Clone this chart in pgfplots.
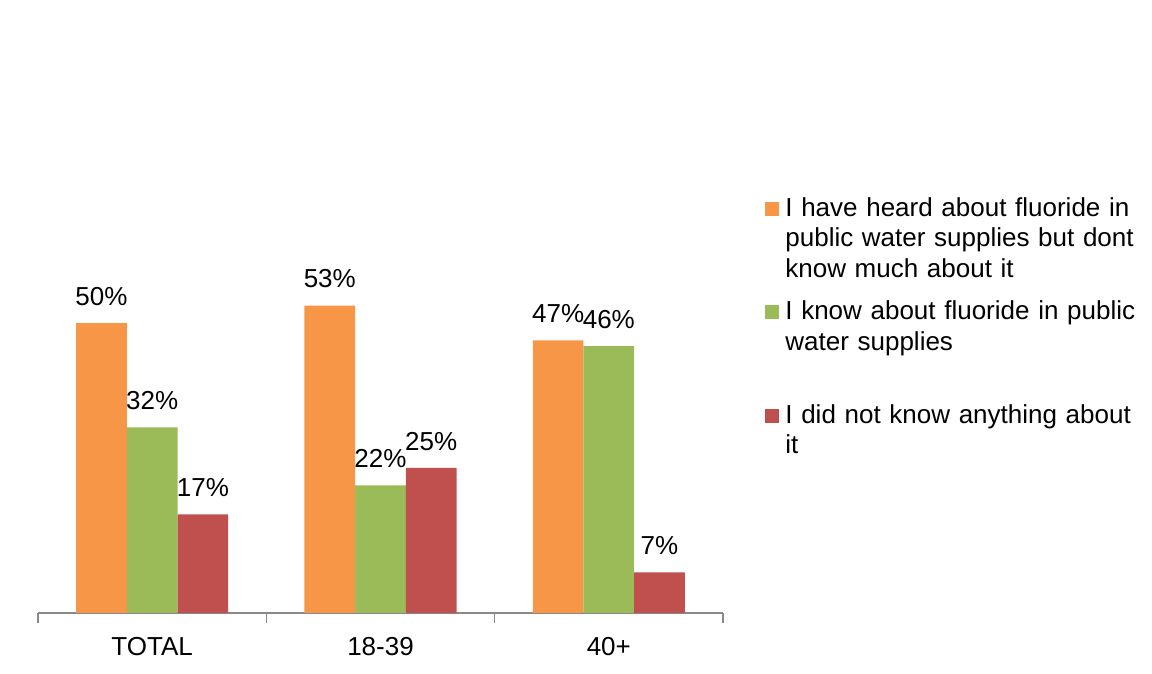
\documentclass[border=0pt]{standalone}
\usepackage{fontspec}
\setmainfont{Liberation Sans}
\usepackage{pgfplots}
\pgfplotsset{compat=1.18}
\definecolor{cOrange}{HTML}{F79646}
\definecolor{cGreen}{HTML}{9BBB59}
\definecolor{cRed}{HTML}{C0504D}
\definecolor{axisgray}{HTML}{898989}
\newcommand{\chartfont}{\fontsize{13}{15.25}\selectfont}

\begin{document}
\chartfont
\begin{tikzpicture}
% whole canvas, 1 px = 0.5pt
\useasboundingbox (0,0) rectangle (576pt,337pt);
\begin{axis}[
    at={(19pt,30.5pt)}, anchor=south west,
    scale only axis,
    width=342.5pt, height=174pt,
    xmin=-0.5, xmax=2.5, ymin=0, ymax=60,
    ybar=0pt, bar width=25.35pt,
    hide y axis,
    axis x line*=bottom,
    axis line style={axisgray, line width=0.75pt},
    xtick={0,1,2},
    xticklabels={TOTAL,18-39,40+},
    major tick length=0pt,
    minor xtick={-0.5,0.5,1.5,2.5},
    minor tick length=5pt,
    tick align=outside,
    minor tick style={axisgray, line width=0.75pt},
    xticklabel style={font=\chartfont, inner sep=0pt, anchor=north, yshift=-12pt},
    nodes near coords={\pgfmathprintnumber[assume math mode=true]{\pgfplotspointmeta}\%},
    every node near coord/.append style={font=\chartfont, inner sep=0pt, yshift=8.5pt},
    legend cell align=left,
    legend style={at={(1.0613,1.1954)}, anchor=north west, draw=none, fill=none,
        inner sep=0pt, row sep=0pt, column sep=3pt, font=\chartfont,
        nodes={inner sep=0pt, text height=9.5pt, text depth=42.25pt,
               text width=190pt, align=left, anchor=base west}},
    legend image code/.code={\fill[#1] (0pt,0.3pt) rectangle (7pt,7.3pt);},
]
\addplot[fill=cOrange, draw=none] coordinates {(0,50) (1,53) (2,47)};
\addlegendentry{I have heard about fluoride in\\public water supplies but dont\\know much about it}
\addplot[fill=cGreen, draw=none] coordinates {(0,32) (1,22) (2,46)};
\addlegendentry{I know about fluoride in public\\water supplies}
\addplot[fill=cRed, draw=none] coordinates {(0,17) (1,25) (2,7)};
\addlegendentry{I did not know anything about\\it}
\end{axis}
\end{tikzpicture}
\end{document}
